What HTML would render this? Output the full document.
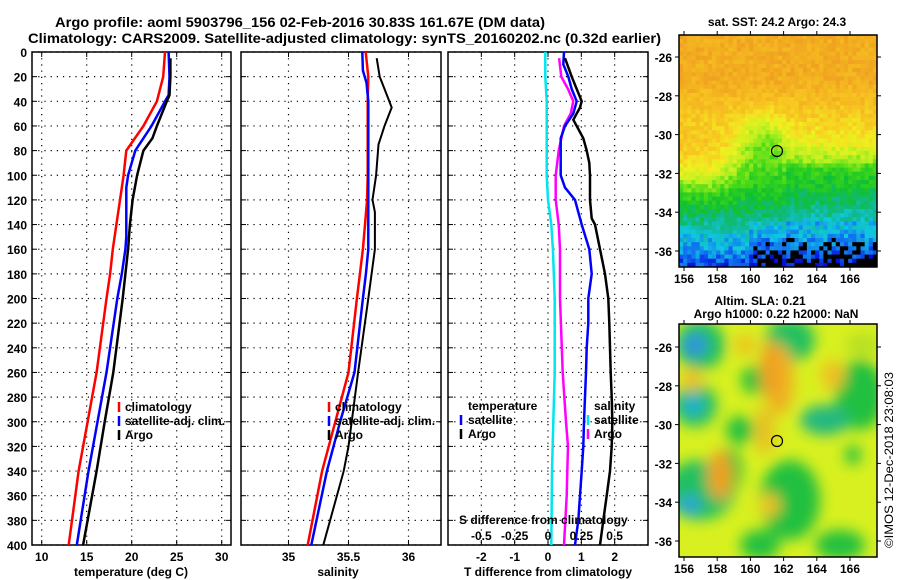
<!DOCTYPE html>
<html><head><meta charset="utf-8">
<style>
body{margin:0;background:#fff;}
svg{display:block;font-family:"Liberation Sans",sans-serif;}
.t{font-weight:bold;font-size:12px;fill:#000;}
</style></head>
<body>
<svg id="chart" width="900" height="580" viewBox="0 0 900 580" xmlns="http://www.w3.org/2000/svg">
<defs>
<filter id="blur4" x="-20%" y="-20%" width="140%" height="140%"><feGaussianBlur stdDeviation="7"/></filter>
<clipPath id="clipTop"><rect x="679" y="35" width="198" height="232"/></clipPath>
<clipPath id="clipBot"><rect x="679" y="324" width="198" height="233"/></clipPath>
</defs>
<text x="55" y="27" font-size="14" font-weight="bold" textLength="490" lengthAdjust="spacingAndGlyphs">Argo profile: aoml 5903796_156 02-Feb-2016 30.83S 161.67E (DM data)</text>
<text x="28" y="43" font-size="14" font-weight="bold" textLength="633" lengthAdjust="spacingAndGlyphs">Climatology: CARS2009. Satellite-adjusted climatology: synTS_20160202.nc (0.32d earlier)</text>
<g id="plots"></g>
<g id="maps"></g>
<text transform="translate(893,460) rotate(-90)" text-anchor="middle" font-size="12" textLength="176" lengthAdjust="spacingAndGlyphs">©IMOS 12-Dec-2018 23:08:03</text>
</svg>
<script>
// ---- data ----
const depthTicks=[0,20,40,60,80,100,120,140,160,180,200,220,240,260,280,300,320,340,360,380,400];
const tempTicks=[10,15,20,25,30];
const salTicks=[35,35.5,36];
const salTickLabels=["35","35.5","36"];
const tdTicks=[-2,-1,0,1,2];
const sdTicks=[-0.5,-0.25,0,0.25,0.5];
const sdTickLabels=["-0.5","-0.25","0","0.25","0.5"];

const tClimDepth=[0,20,40,60,80,100,120,140,160,180,200,260,300,340,400];
const tClim=[23.7,23.5,22.8,21.3,19.4,19.1,18.7,18.3,17.9,17.6,17.2,16.1,15.1,14.1,13.0];
const tSatDepth=[0,20,35,40,60,80,100,110,120,150,160,180,200,260,300,340,400];
const tSat=[24.1,24.2,24.1,23.7,22.2,20.4,19.6,19.4,19.4,19.4,19.3,18.9,18.4,17.2,16.2,15.2,13.9];
const tArgoDepth=[5,20,35,40,60,70,80,100,120,140,160,180,200,260,300,340,400];
const tArgo=[24.3,24.3,24.2,23.9,22.8,22.3,21.3,20.6,20.1,19.8,19.6,19.3,19.0,17.96,17.0,16.1,14.6];

const sClimDepth=[0,20,40,100,120,160,200,260,300,340,400];
const sClim=[35.643,35.665,35.66,35.66,35.655,35.62,35.57,35.50,35.39,35.28,35.16];
const sSatDepth=[0,15,25,40,160,180,200,260,300,340,400];
const sSat=[35.615,35.62,35.65,35.665,35.665,35.645,35.62,35.55,35.43,35.32,35.19];
const sArgoDepth=[5,20,35,45,60,75,100,120,130,160,200,260,320,340,400];
const sArgo=[35.735,35.76,35.82,35.86,35.80,35.75,35.73,35.70,35.72,35.72,35.665,35.58,35.50,35.46,35.29];

const dTSatDepth=[0,10,20,30,40,50,60,70,80,100,110,120,140,160,180,200,220,240,260,280,300,320,340,360,380,400];
const dTSat=[0.48,0.46,0.61,0.71,0.86,0.76,0.51,0.38,0.38,0.38,0.51,0.81,1.01,1.24,1.31,1.21,1.21,1.16,1.14,1.11,1.08,1.06,1.01,0.96,0.91,0.81];
const dTArgoDepth=[5,20,30,40,45,55,60,70,80,90,100,120,135,140,160,180,200,220,240,260,280,300,320,340,360,380,400];
const dTArgo=[0.51,0.71,0.86,1.01,0.96,0.76,0.86,1.06,1.16,1.24,1.26,1.26,1.31,1.41,1.56,1.71,1.81,1.84,1.86,1.88,1.91,1.93,1.91,1.86,1.76,1.66,1.56];
const dSSatDepth=[0,20,40,60,100,120,140,160,200,260,300,340,400];
const dSSat=[-0.02,-0.02,-0.01,-0.01,-0.01,0,0.025,0.037,0.05,0.05,0.04,0.03,0.025];
const dSArgoDepth=[5,20,30,40,50,60,80,100,120,140,160,200,260,300,320,340,360,400];
const dSArgo=[0.083,0.10,0.15,0.19,0.17,0.12,0.08,0.058,0.058,0.08,0.09,0.09,0.11,0.135,0.15,0.145,0.14,0.12];

const lonTicks=[156,158,160,162,164,166];
const latTicks=[-26,-28,-30,-32,-34,-36];

// ---- helpers ----
const NS="http://www.w3.org/2000/svg";
const plots=document.getElementById('plots');
function mk(tag,attrs,parent){const e=document.createElementNS(NS,tag);for(const k in attrs)e.setAttribute(k,attrs[k]);(parent||plots).appendChild(e);return e;}
const Y0=52,Y1=545;
const yD=d=>Y0+(d/400)*(Y1-Y0);
const xT=v=>41.7+(v-10)*9;
const xS=v=>288.5+(v-35)*120;
const xDT=v=>548+v*33.33;
const xDS=v=>548+v*133.3;

function frame(x0,x1,name,xticks,xf){
  const g=mk('g',{});
  
  
  depthTicks.forEach(d=>{
    const l=mk('line',{x1:x0,x2:x1,y1:yD(d),y2:yD(d),stroke:'#000','stroke-width':1.2,'stroke-dasharray':'1.2 5'},g);
    
    
    mk('line',{x1:x0,x2:x0+5,y1:yD(d),y2:yD(d),stroke:'#000'},g);
    mk('line',{x1:x1-5,x2:x1,y1:yD(d),y2:yD(d),stroke:'#000'},g);
  });
  xticks.forEach(v=>{
    const x=xf(v);
    const l=mk('line',{x1:x,x2:x,y1:Y0,y2:Y1,stroke:'#000','stroke-width':1.2,'stroke-dasharray':'1.2 5'},g);
    
    
    mk('line',{x1:x,x2:x,y1:Y0,y2:Y0+5,stroke:'#000'},g);
    mk('line',{x1:x,x2:x,y1:Y1-5,y2:Y1,stroke:'#000'},g);
  });
  mk('rect',{x:x0,y:Y0,width:x1-x0,height:Y1-Y0,fill:'none',stroke:'#000','stroke-width':1.5},g);
  return g;
}
function series(ds,vs,xf,color,w,name){
  const pts=ds.map((d,i)=>xf(vs[i]).toFixed(1)+','+yD(d).toFixed(1)).join(' ');
  const p=mk('polyline',{points:pts,fill:'none',stroke:color,'stroke-width':w,'stroke-linejoin':'round'});
  
  
}
function txt(x,y,s,name,anchor,size){
  const t=mk('text',{x:x,y:y,class:'t','text-anchor':anchor||'start','font-size':size||12});
  t.textContent=s;
  
  
  return t;
}
function legMark(x,y,color,name){
  const l=mk('line',{x1:x,x2:x,y1:y-9,y2:y+1,stroke:color,'stroke-width':2.5});
  
  
}

// panel 1 temperature
frame(32,231,'temperature-panel',tempTicks,xT);
depthTicks.forEach(d=>txt(27,yD(d)+5,String(d),'depth-tick-label','end'));
tempTicks.forEach(v=>txt(xT(v),561,String(v),'temperature-tick-label','middle'));
txt(131,576,'temperature (deg C)','temperature-axis-title','middle');
series(tClimDepth,tClim,xT,'#ff0000',2.5,'temperature-climatology-line');
series(tSatDepth,tSat,xT,'#0000ff',2.5,'temperature-satellite-line');
series(tArgoDepth,tArgo,xT,'#000000',2.5,'temperature-argo-line');
legMark(119,411,'#f00','legend-climatology-marker');txt(125,411,'climatology','legend-climatology');
legMark(119,425,'#00f','legend-satellite-marker');txt(125,425,'satellite-adj. clim.','legend-satellite-adj');
legMark(119,439,'#000','legend-argo-marker');txt(125,439,'Argo','legend-argo');

// panel 2 salinity
frame(241,441,'salinity-panel',salTicks,xS);
salTicks.forEach((v,i)=>txt(xS(v),561,salTickLabels[i],'salinity-tick-label','middle'));
txt(338,576,'salinity','salinity-axis-title','middle');
series(sClimDepth,sClim,xS,'#ff0000',2.5,'salinity-climatology-line');
series(sSatDepth,sSat,xS,'#0000ff',2.5,'salinity-satellite-line');
series(sArgoDepth,sArgo,xS,'#000000',2,'salinity-argo-line');
legMark(329,411,'#f00','legend-climatology-marker');txt(335,411,'climatology','legend-climatology');
legMark(329,425,'#00f','legend-satellite-marker');txt(335,425,'satellite-adj. clim.','legend-satellite-adj');
legMark(329,439,'#000','legend-argo-marker');txt(335,439,'Argo','legend-argo');

// panel 3 differences
frame(448,648,'difference-panel',tdTicks,xDT);
tdTicks.forEach(v=>txt(xDT(v),561,String(v),'t-difference-tick-label','middle'));
txt(548,576,'T difference from climatology','t-difference-axis-title','middle');
series(dSSatDepth,dSSat,xDS,'#00e5ee',2.5,'salinity-diff-satellite-line');
series(dSArgoDepth,dSArgo,xDS,'#ff00ff',2.5,'salinity-diff-argo-line');
series(dTSatDepth,dTSat,xDT,'#0000ff',2.5,'temperature-diff-satellite-line');
series(dTArgoDepth,dTArgo,xDT,'#000000',2.5,'temperature-diff-argo-line');
txt(468,410,'temperature','legend-temperature-heading');
legMark(461,424,'#00f','legend-t-satellite-marker');txt(468,424,'satellite','legend-t-satellite');
legMark(461,438,'#000','legend-t-argo-marker');txt(468,438,'Argo','legend-t-argo');
txt(594,410,'salinity','legend-salinity-heading');
legMark(588,424,'#00e5ee','legend-s-satellite-marker');txt(594,424,'satellite','legend-s-satellite');
legMark(588,438,'#f0f','legend-s-argo-marker');txt(594,438,'Argo','legend-s-argo');
txt(459,524,'S difference from climatology','s-difference-axis-title');
sdTicks.forEach((v,i)=>txt(xDS(v),540,sdTickLabels[i],'s-difference-tick-label','middle'));

// ---- maps ----
const maps=document.getElementById('maps');
function mm(tag,attrs,parent){const e=document.createElementNS(NS,tag);for(const k in attrs)e.setAttribute(k,attrs[k]);(parent||maps).appendChild(e);return e;}
const xLon=l=>684+(l-156)*16.6;
function mapAxes(yTop,yBot,yLat,name){
  const g=mm('g',{});
  
  
  mm('rect',{x:679,y:yTop,width:198,height:yBot-yTop,fill:'none',stroke:'#000','stroke-width':1.5},g);
  lonTicks.forEach(l=>{
    const x=xLon(l);
    mm('line',{x1:x,x2:x,y1:yTop-4,y2:yTop,stroke:'#000'},g);
    mm('line',{x1:x,x2:x,y1:yBot,y2:yBot+4,stroke:'#000'},g);
    const t=mm('text',{x:x,y:yBot+16,class:'t','text-anchor':'middle'},g);t.textContent=String(l);
    
    
  });
  latTicks.forEach(la=>{
    const y=yLat(la);
    mm('line',{x1:675,x2:679,y1:y,y2:y,stroke:'#000'},g);
    mm('line',{x1:877,x2:881,y1:y,y2:y,stroke:'#000'},g);
    const t=mm('text',{x:672,y:y+5,class:'t','text-anchor':'end'},g);t.textContent=String(la);
    
    
  });
}
// SST map as pixel grid (image texture)
const pal=[[0,[224,112,16]],[0.15,[240,160,32]],[0.3,[248,200,32]],[0.4,[240,240,32]],[0.5,[176,240,32]],
 [0.6,[64,216,24]],[0.7,[16,192,48]],[0.78,[16,184,144]],[0.85,[16,200,224]],[0.92,[16,112,240]],[1,[0,16,224]]];
function col(v){v=Math.max(0,Math.min(1,v));for(let i=1;i<pal.length;i++){if(v<=pal[i][0]){const a=pal[i-1],b=pal[i],f=(v-a[0])/(b[0]-a[0]);return 'rgb('+a[1].map((c,k)=>Math.round(c+(b[1][k]-c)*f)).join(',')+')';}}return 'rgb(0,16,224)';}
function hsh(i,j){let h=Math.sin(i*127.1+j*311.7)*43758.5453;return h-Math.floor(h);}
const gt=mm('g',{'clip-path':'url(#clipTop)'});


const NX=48,NY=56,cw=198/NX,ch=232/NY;
for(let j=0;j<NY;j++){for(let i=0;i<NX;i++){
  const u=(i+0.5)/NX,w=(j+0.5)/NY;
  let v;
  if(w<0.2)v=0.2;else if(w<0.45)v=0.2+(w-0.2)/0.25*0.18;else if(w<0.6)v=0.38+(w-0.45)/0.15*0.22;else if(w<0.8)v=0.6+(w-0.6)/0.2*0.18;else v=0.78+(w-0.8)/0.2*0.18;
  const lw=Math.exp(-Math.pow((w-0.56)/0.14,2))*Math.exp(-Math.pow(u/0.3,4));
  v-=0.16*lw;
  const dx=u-0.42,dy=w-0.45;v+=0.16*Math.exp(-(dx*dx/0.015+dy*dy/0.012));
  if(u>0.55&&w>0.55&&w<0.82)v+=0.04;
  if(w>0.8&&u>0.35)v+=0.04;
  v+= (hsh(i,j)-0.5)*0.1;
  let c=col(v);
  if(w>0.76&&u>0.38&&v>0.93&&hsh(j,i)>0.35)c='#000';
  mm('rect',{x:(679+i*cw).toFixed(2),y:(35+j*ch).toFixed(2),width:(cw+0.4).toFixed(2),height:(ch+0.4).toFixed(2),fill:c},gt);
}}
mm('circle',{cx:777,cy:151,r:5.5,fill:'none',stroke:'#000','stroke-width':1.2});
mapAxes(35,267,la=>57+(-26-la)*19.4,'sst-map-axes');
const st=mm('text',{x:777,y:26,class:'t','text-anchor':'middle'});st.textContent='sat. SST: 24.2 Argo: 24.3';



// SLA map
const gb=mm('g',{'clip-path':'url(#clipBot)'});


mm('rect',{x:679,y:324,width:198,height:233,fill:'#d8f020'},gb);
const gbb=mm('g',{filter:'url(#blur4)'},gb);
[[700,345,25,25,'#20c060'],[695,345,12,12,'#3090e0'],[755,380,14,14,'#20c040'],[790,340,25,22,'#20c060'],
 [860,395,25,35,'#20c040'],[695,405,22,22,'#20c060'],[693,405,11,11,'#20b0d0'],[740,430,14,14,'#20c040'],
 [825,420,25,15,'#20b880'],[700,490,35,30,'#20c060'],[690,505,10,10,'#30a0e0'],[790,500,30,40,'#20c040'],
 [760,545,20,15,'#20c040'],[840,545,25,15,'#20c040'],[730,470,12,22,'#20c040'],[853,455,8,10,'#20c040'],
 [780,380,14,35,'#f0b020'],[770,370,10,30,'#f0a020'],[765,430,10,25,'#e8c020'],[720,475,12,25,'#f0a020'],
 [833,375,12,15,'#f0c020'],[745,345,10,10,'#f0c020'],[770,505,10,12,'#f0c020'],[692,380,10,12,'#f0c020'],
 [863,345,18,12,'#b8e020']].forEach(b=>{
  mm('ellipse',{cx:b[0],cy:b[1],rx:b[2],ry:b[3],fill:b[4]},gbb);
});
mm('circle',{cx:777,cy:441,r:5.5,fill:'none',stroke:'#000','stroke-width':1.2});
mapAxes(324,557,la=>347+(-26-la)*19.4,'sla-map-axes');
const s1=mm('text',{x:760,y:305,class:'t','text-anchor':'middle'});s1.textContent='Altim. SLA: 0.21';


const s2=mm('text',{x:776,y:318,class:'t','text-anchor':'middle'});s2.textContent='Argo h1000: 0.22 h2000: NaN';


</script>
</body></html>
